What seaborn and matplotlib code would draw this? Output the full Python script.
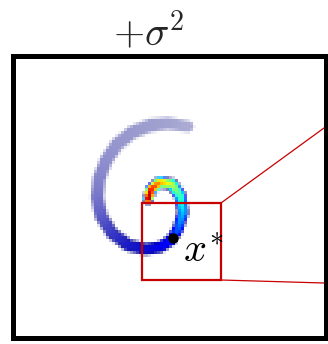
import numpy as np
import pandas as pd
import matplotlib
matplotlib.use("Agg")
import matplotlib.pyplot as plt
from matplotlib.patches import Rectangle
import seaborn as sns

sns.set_theme(style="white")
plt.rcParams["mathtext.fontset"] = "cm"

# Panel plane (units ~ pixels, y pointing down) and its raster grid
PANEL_W, PANEL_H = 313.0, 282.5
N_COLS, N_ROWS = 104, 94

# Spiral centreline, from the inner tip to the outer end
spiral_x = [135.5, 138.5, 147.5, 159.5, 167.5, 170.5, 165.5, 158.5, 147.5, 132.5,
            115.5, 99.5, 88.5, 84.5, 86.5, 93.5, 104.5, 119.5, 137.5, 155.5, 175.5]
spiral_y = [143.5, 133.5, 126.5, 128.5, 139.5, 156.5, 173.5, 184.5, 191.5, 193.5,
            189.5, 177.5, 160.5, 141.5, 122.5, 104.5, 88.5, 76.5, 69.5, 67.5, 70.5]
# Density level on the centreline, opacity and half-width of the band
spiral_level = [0.97, 0.90, 0.74, 0.58, 0.44, 0.32, 0.22, 0.15, 0.10, 0.07,
                0.06, 0.05, 0.04, 0.03, 0.02, 0.02, 0.01, 0.01, 0.0, 0.0, 0.0]
spiral_alpha = [1.0, 1.0, 1.0, 1.0, 1.0, 1.0, 1.0, 1.0, 1.0, 0.95,
                0.9, 0.78, 0.64, 0.54, 0.48, 0.44, 0.41, 0.40, 0.38, 0.36, 0.33]
spiral_halfw = [5.0, 5.6, 5.8, 5.8, 5.8, 5.6, 5.4, 5.4, 5.6, 5.8,
                6.0, 6.0, 6.2, 6.2, 6.2, 6.2, 6.4, 6.4, 6.4, 6.0, 5.5]

# Query point and zoom window
x_star = (160.5, 182.5)
zoom_box = (129.5, 147.5, 79.0, 77.0)          # left, top, width, height
zoom_targets = [(311.5, 72.5), (311.5, 227.5)]  # where the window edges lead

cell_w = PANEL_W / N_COLS
cell_h = PANEL_H / N_ROWS

# Rasterise the band around the centreline
cx = (np.arange(N_COLS) + 0.5) * cell_w
cy = (np.arange(N_ROWS) + 0.5) * cell_h
gx, gy = np.meshgrid(cx, cy)
px, py = np.array(spiral_x), np.array(spiral_y)
lev, alp, hw = map(np.array, (spiral_level, spiral_alpha, spiral_halfw))

best_d = np.full(gx.shape, np.inf)
best_lev = np.zeros(gx.shape)
best_alp = np.zeros(gx.shape)
best_hw = np.ones(gx.shape)
for i in range(len(px) - 1):
    ax_, ay_ = px[i], py[i]
    dx, dy = px[i + 1] - ax_, py[i + 1] - ay_
    t = ((gx - ax_) * dx + (gy - ay_) * dy) / (dx * dx + dy * dy)
    t = np.clip(t, 0, 1)
    d = np.hypot(gx - (ax_ + t * dx), gy - (ay_ + t * dy))
    sel = d < best_d
    best_d[sel] = d[sel]
    best_lev[sel] = (lev[i] + t * (lev[i + 1] - lev[i]))[sel]
    best_alp[sel] = (alp[i] + t * (alp[i + 1] - alp[i]))[sel]
    best_hw[sel] = (hw[i] + t * (hw[i + 1] - hw[i]))[sel]

r = best_d / best_hw
inside = r < 1.3
value = np.where(inside, best_lev * np.clip(1 - r ** 2, 0, 1) ** 0.6, np.nan)
alpha = np.clip(best_alp * np.clip((1.3 - r) / 0.55, 0, 1), 0, 1)

density = pd.DataFrame(value)

fig = plt.figure(figsize=(3.28, 3.44), dpi=100)
ax = fig.add_axes([12.5 / 328, 1 - 338 / 344, 313 / 328, 282.5 / 344])

sns.heatmap(density, ax=ax, cmap="jet", vmin=0, vmax=1, cbar=False,
            xticklabels=False, yticklabels=False, alpha=alpha)

for s in ax.spines.values():
    s.set_visible(True)
    s.set_color("black")
    s.set_linewidth(3.6)

red = "#c80000"
bl, bt, bw, bh = zoom_box
ax.add_patch(Rectangle((bl / cell_w, bt / cell_h), bw / cell_w, bh / cell_h,
                       fill=False, edgecolor=red, linewidth=1.6, zorder=4))
corners = [(bl + bw, bt), (bl + bw, bt + bh)]
for (x0, y0), (x1, y1) in zip(corners, zoom_targets):
    ax.plot([x0 / cell_w, x1 / cell_w], [y0 / cell_h, y1 / cell_h],
            color=red, linewidth=0.9, zorder=4)

ax.plot([x_star[0] / cell_w], [x_star[1] / cell_h], "o", color="black",
        markersize=6.5, zorder=5)
ax.text((x_star[0] + 10) / cell_w, (x_star[1] + 24) / cell_h, r"$x^{\!*}$",
        fontsize=29, ha="left", va="baseline", color="black", zorder=5)

fig.text(149 / 328, 1 - 45 / 344, r"$+\sigma^2$", fontsize=29,
         ha="center", va="baseline")

fig.savefig("out.png", dpi=100)
